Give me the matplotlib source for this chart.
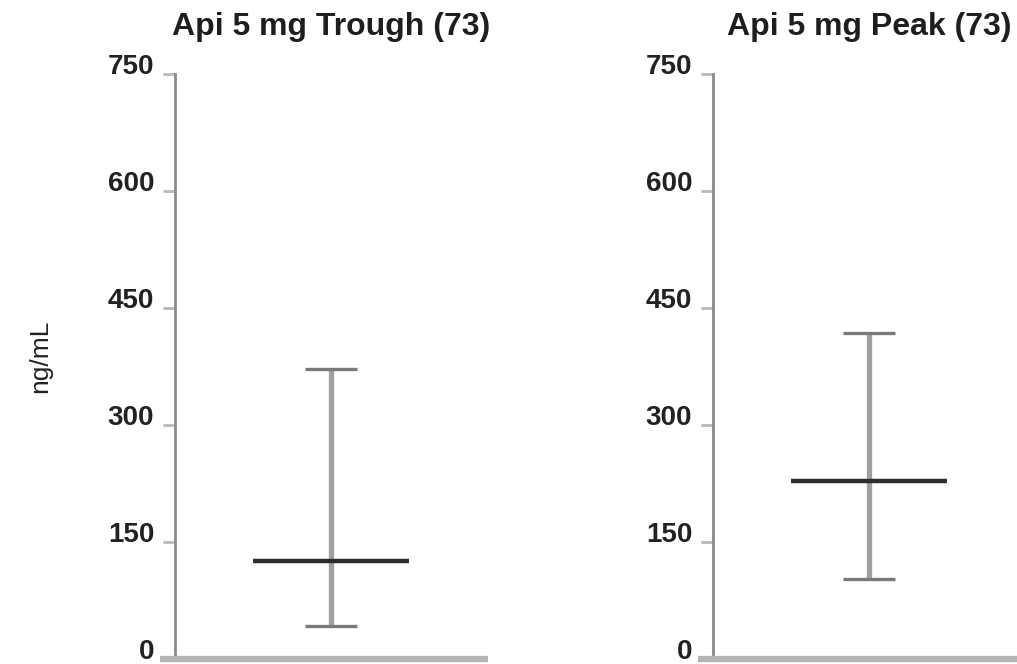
import numpy as np
from matplotlib import pyplot as plt

titles = ["Api 5 mg Trough (73)", "Api 5 mg Peak (73)"]
medians = [126, 228]
lows = [42, 103]
highs = [372, 418]
yticks = [0, 150, 300, 450, 600, 750]

plt.rcParams['font.family'] = ['Liberation Sans', 'DejaVu Sans']

W, H = 1017, 664
fig = plt.figure(figsize=(W / 100, H / 100), dpi=100)

# axes boxes in pixels: left edge, width
boxes = [(160, 328), (698, 328)]
bottom_px, top_px = 659, 74
title_y = 1 + (top_px - 35) / (bottom_px - top_px)

for i, (x0, w) in enumerate(boxes):
    ax = fig.add_axes([x0 / W, 1 - bottom_px / H, w / W, (bottom_px - top_px) / H])
    ax.set_xlim(-171 / 328, 157 / 328)
    ax.set_ylim(0, 750)

    # whisker, caps, median
    ax.vlines(0, lows[i], highs[i], color='#a0a0a0', lw=3.8, zorder=2)
    ax.hlines([lows[i], highs[i]], -0.079, 0.079, color='#7a7a7a', lw=2.4, zorder=3)
    ax.hlines(medians[i], -0.238, 0.238, color='#2e2e2e', lw=3.2, zorder=4)

    for s in ['top', 'right']:
        ax.spines[s].set_visible(False)
    ax.spines['left'].set_position(('axes', 15 / 328))
    ax.spines['left'].set_color('#8a8a8a')
    ax.spines['left'].set_linewidth(2.0)
    ax.spines['bottom'].set_color('#b4b4b4')
    ax.spines['bottom'].set_linewidth(4.5)
    ax.spines['bottom'].set_capstyle('butt')

    ax.set_xticks([])
    ax.set_yticks(yticks)
    ax.set_yticklabels([str(t) for t in yticks], fontsize=20, fontweight='bold', color='#222222')
    for lab in ax.get_yticklabels():
        lab.set_va('baseline')
    ax.tick_params(axis='y', length=9, width=2, color='#b8b8b8', pad=6)

    ax.text(0, title_y, titles[i], transform=ax.get_xaxis_transform(),
            ha='center', va='baseline', fontsize=23, fontweight='bold', color='#1e1e1e')

    if i == 0:
        fig.text(40 / W, 1 - 356 / H, "ng/mL", rotation=90, ha='center', va='center',
                 fontsize=19, color='#222222')

fig.savefig("out.png", dpi=100, facecolor='white')
